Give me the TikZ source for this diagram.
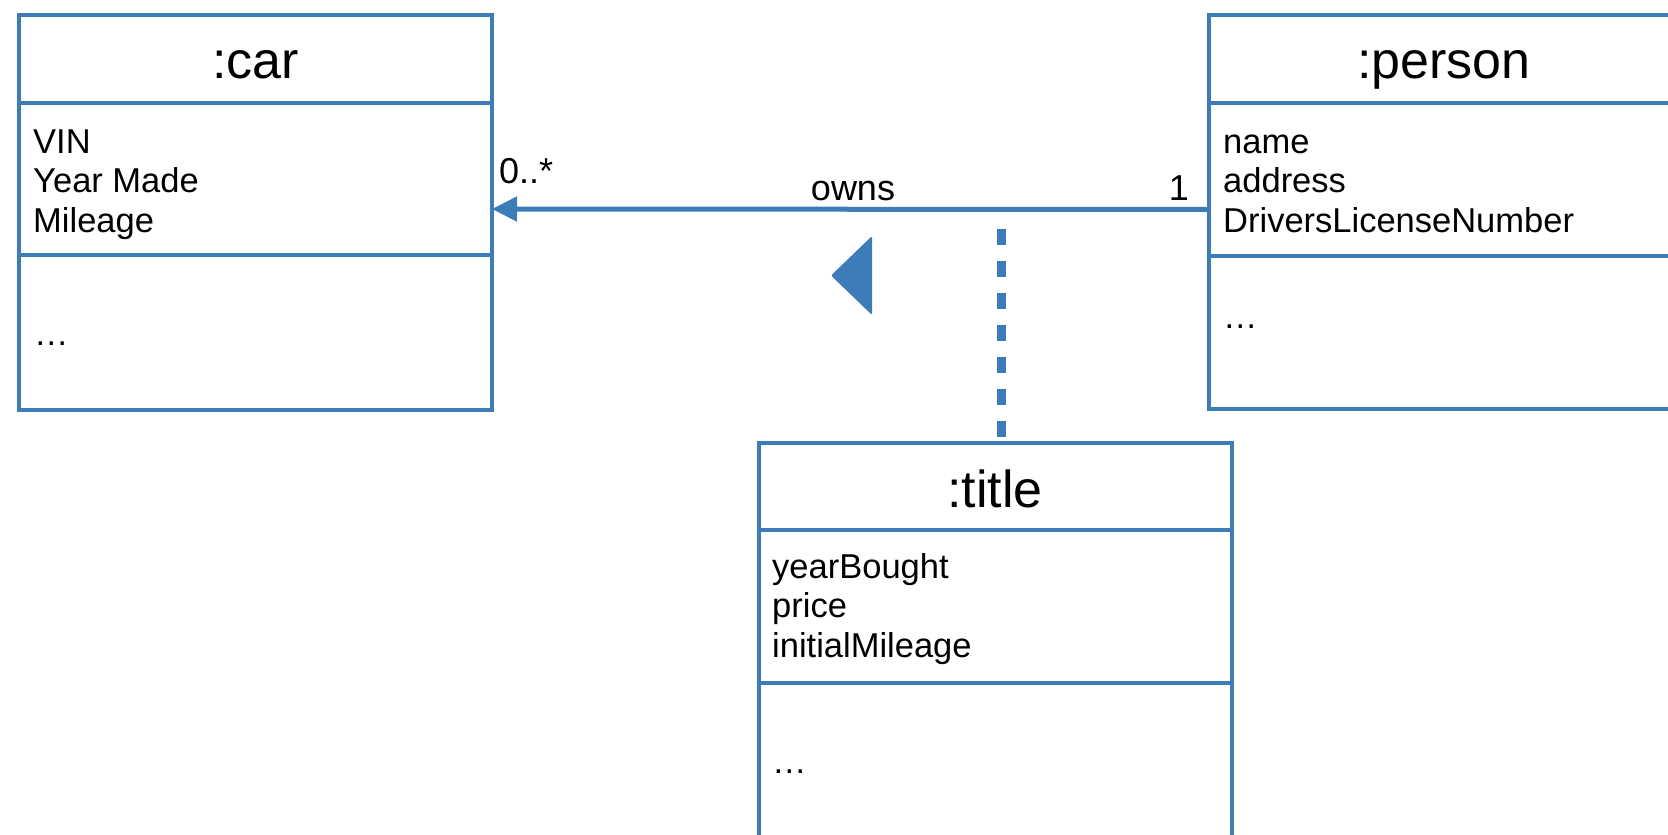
\documentclass[tikz,border=0pt]{standalone}
\usepackage{fontspec}
\setmainfont{Liberation Sans}
\usetikzlibrary{arrows.meta}
\definecolor{umlblue}{RGB}{60,125,185}
\begin{document}
\begin{tikzpicture}[x=1pt,y=-1pt,
  compartment/.style={rectangle, draw=umlblue, line width=4pt, fill=white,
    minimum width=473pt, inner sep=0pt, outer sep=0pt, anchor=north west},
  headfont/.style={font=\fontsize{52}{60}\selectfont, inner sep=0pt, anchor=base},
  % multi-line texts are placed by the baseline of their last line
  attrfont/.style={font=\fontsize{34.5}{39.5}\selectfont, align=left, inner sep=0pt, anchor=base west},
  labelfont/.style={font=\fontsize{36}{40}\selectfont, inner sep=0pt},
  assoc/.style={draw=umlblue, line width=5pt, -{Triangle[length=25pt,width=24pt]}},
  assocclass/.style={draw=umlblue, line width=9pt, dash pattern=on 16pt off 16pt},
]
\path[use as bounding box, clip] (0,0) rectangle (1668,835);

% class :car
\node[compartment, minimum height=88pt]  (carhead) at (19,15)  {};
\node[compartment, minimum height=152pt] (carattr) at (19,103) {};
\node[compartment, minimum height=155pt] (carops)  at (19,255) {};
\node[headfont] (carname) at (255.5,78) {:car};
\node[attrfont] (carattrs) at (33,232) {VIN\\Year Made\\Mileage};
\node[attrfont] (carmore) at (34,345) {…};

% class :person
\node[compartment, minimum height=88pt]  (personhead) at (1209,15)  {};
\node[compartment, minimum height=153pt] (personattr) at (1209,103) {};
\node[compartment, minimum height=153pt] (personops)  at (1209,256) {};
\node[headfont] (personname) at (1444,78) {:person};
\node[attrfont] (personattrs) at (1223,232) {name\\address\\DriversLicenseNumber};
\node[attrfont] (personmore) at (1223,328) {…};

% association class :title
\node[compartment, minimum height=87pt]  (titlehead) at (759,443) {};
\node[compartment, minimum height=153pt] (titleattr) at (759,530) {};
\node[compartment, minimum height=200pt] (titleops)  at (759,683) {};
\node[headfont] (titlename) at (995,507) {:title};
\node[attrfont] (titleattrs) at (772,657) {yearBought\\price\\initialMileage};
\node[attrfont] (titlemore) at (772,773) {…};

% association "owns" from person to car
\draw[assoc] ([yshift=-30pt]personattr.west) -- ([yshift=-30pt]carattr.east);
\node[labelfont, anchor=base] (owns) at (853,200) {owns};
\node[labelfont, anchor=base east] (multone) at (1189,200) {1};
\node[labelfont, anchor=base west] (multmany) at (499,183) {0..*};

% reading direction marker
\fill[umlblue, rounded corners=2pt] (872,236) -- (831,275.5) -- (872,315) -- cycle;

% dashed link to the association class
\coordinate (linkpoint) at (1001,229);
\draw[assocclass] (linkpoint) -- (linkpoint |- titlehead.north);
\end{tikzpicture}
\end{document}
